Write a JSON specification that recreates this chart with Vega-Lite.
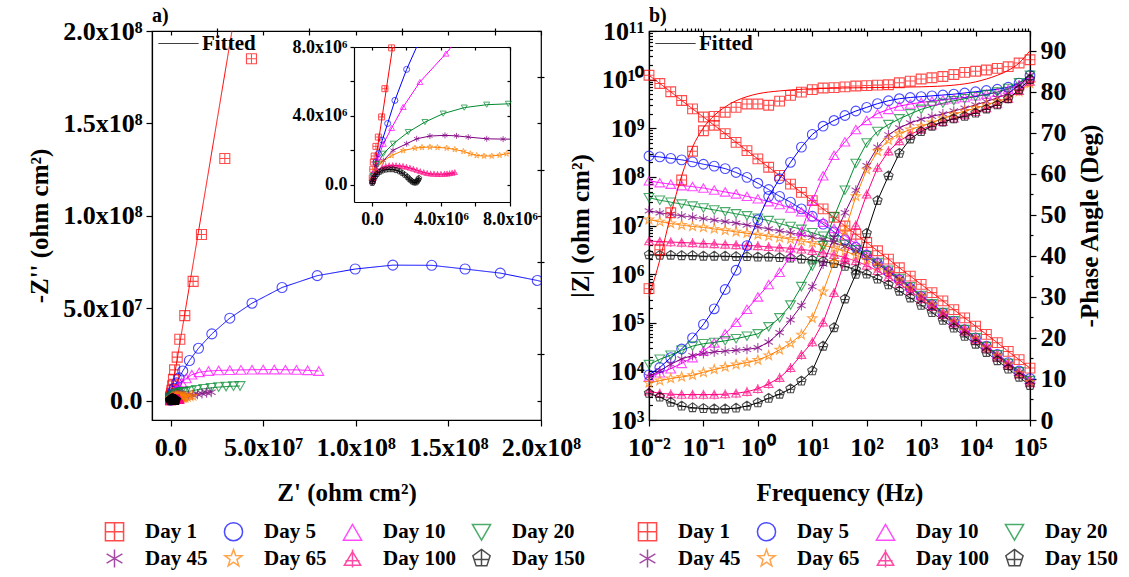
{
"$schema": "https://vega.github.io/schema/vega-lite/v6.json",
"background": "white",
"padding": {"left": 27, "top": 5, "right": 5, "bottom": 5},
"bounds": "flush",
"spacing": 108,
"datasets": {
"nyq": [
{"d":"Day 1","x":2e4,"y":4e5,"t":"p"},{"d":"Day 1","x":5e4,"y":9e5,"t":"p"},{"d":"Day 1","x":8e4,"y":1.32e6,"t":"p"},{"d":"Day 1","x":1.3e5,"y":1.67e6,"t":"p"},{"d":"Day 1","x":2.3e5,"y":2.23e6,"t":"p"},{"d":"Day 1","x":3.7e5,"y":2.77e6,"t":"p"},{"d":"Day 1","x":5.6e5,"y":3.94e6,"t":"p"},{"d":"Day 1","x":7.5e5,"y":5.58e6,"t":"p"},{"d":"Day 1","x":1.14e6,"y":7.95e6,"t":"p"},{"d":"Day 1","x":1.6e6,"y":1.15e7,"t":"p"},{"d":"Day 1","x":2.2e6,"y":1.66e7,"t":"p"},{"d":"Day 1","x":3.6e6,"y":2.35e7,"t":"p"},{"d":"Day 1","x":5.0e6,"y":3.32e7,"t":"p"},{"d":"Day 1","x":7.7e6,"y":4.6e7,"t":"p"},{"d":"Day 1","x":1.22e7,"y":6.45e7,"t":"p"},{"d":"Day 1","x":1.67e7,"y":8.99e7,"t":"p"},{"d":"Day 1","x":2.93e7,"y":1.31e8,"t":"p"},{"d":"Day 1","x":4.37e7,"y":1.85e8,"t":"p"},
{"d":"Day 1","x":0,"y":0,"t":"l"},{"d":"Day 1","x":1.2e6,"y":8e6,"t":"l"},{"d":"Day 1","x":3.4e7,"y":2.05e8,"t":"l"},
{"d":"Day 5","x":3e4,"y":2e5,"t":"b"},{"d":"Day 5","x":1.2e5,"y":6e5,"t":"b"},{"d":"Day 5","x":2.3e5,"y":1.3e6,"t":"b"},{"d":"Day 5","x":3.7e5,"y":1.81e6,"t":"b"},{"d":"Day 5","x":6e5,"y":2.59e6,"t":"b"},{"d":"Day 5","x":9.1e5,"y":3.56e6,"t":"b"},{"d":"Day 5","x":1.33e6,"y":4.9e6,"t":"b"},{"d":"Day 5","x":2.01e6,"y":6.7e6,"t":"b"},{"d":"Day 5","x":2.59e6,"y":8e6,"t":"l"},{"d":"Day 5","x":3.3e6,"y":9.6e6,"t":"b"},{"d":"Day 5","x":4.6e6,"y":1.23e7,"t":"b"},{"d":"Day 5","x":6.6e6,"y":1.6e7,"t":"b"},{"d":"Day 5","x":1.02e7,"y":2.17e7,"t":"b"},{"d":"Day 5","x":1.51e7,"y":2.83e7,"t":"b"},{"d":"Day 5","x":2.23e7,"y":3.61e7,"t":"b"},{"d":"Day 5","x":3.2e7,"y":4.46e7,"t":"b"},{"d":"Day 5","x":4.4e7,"y":5.27e7,"t":"b"},{"d":"Day 5","x":6.02e7,"y":6.12e7,"t":"b"},{"d":"Day 5","x":7.92e7,"y":6.76e7,"t":"b"},{"d":"Day 5","x":9.97e7,"y":7.12e7,"t":"b"},{"d":"Day 5","x":1.2e8,"y":7.33e7,"t":"b"},{"d":"Day 5","x":1.41e8,"y":7.32e7,"t":"b"},{"d":"Day 5","x":1.59e8,"y":7.12e7,"t":"b"},{"d":"Day 5","x":1.78e8,"y":6.9e7,"t":"b"},{"d":"Day 5","x":1.98e8,"y":6.5e7,"t":"b"},{"d":"Day 5","x":2.1e8,"y":6.2e7,"t":"l"},
{"d":"Day 10","x":6e4,"y":4e5,"t":"b"},{"d":"Day 10","x":1.5e5,"y":8e5,"t":"b"},{"d":"Day 10","x":3.7e5,"y":1.6e6,"t":"b"},{"d":"Day 10","x":6.6e5,"y":2.38e6,"t":"b"},{"d":"Day 10","x":1.14e6,"y":3.3e6,"t":"b"},{"d":"Day 10","x":1.81e6,"y":4.52e6,"t":"b"},{"d":"Day 10","x":2.78e6,"y":5.97e6,"t":"b"},{"d":"Day 10","x":4.29e6,"y":7.62e6,"t":"b"},{"d":"Day 10","x":4.59e6,"y":8e6,"t":"l"},{"d":"Day 10","x":6.0e6,"y":9.8e6,"t":"b"},{"d":"Day 10","x":8.5e6,"y":1.2e7,"t":"b"},{"d":"Day 10","x":1.15e7,"y":1.4e7,"t":"b"},{"d":"Day 10","x":1.55e7,"y":1.53e7,"t":"b"},{"d":"Day 10","x":2.05e7,"y":1.6e7,"t":"b"},{"d":"Day 10","x":2.6e7,"y":1.63e7,"t":"b"},{"d":"Day 10","x":3.2e7,"y":1.65e7,"t":"b"},{"d":"Day 10","x":3.8e7,"y":1.66e7,"t":"b"},{"d":"Day 10","x":4.4e7,"y":1.67e7,"t":"b"},{"d":"Day 10","x":5.0e7,"y":1.68e7,"t":"b"},{"d":"Day 10","x":5.6e7,"y":1.68e7,"t":"b"},{"d":"Day 10","x":6.2e7,"y":1.67e7,"t":"b"},{"d":"Day 10","x":6.8e7,"y":1.66e7,"t":"b"},{"d":"Day 10","x":7.4e7,"y":1.64e7,"t":"b"},{"d":"Day 10","x":8.0e7,"y":1.6e7,"t":"b"},
{"d":"Day 20","x":5e4,"y":5e5,"t":"b"},{"d":"Day 20","x":3e5,"y":1.2e6,"t":"b"},{"d":"Day 20","x":6.6e5,"y":1.8e6,"t":"b"},{"d":"Day 20","x":1.23e6,"y":2.38e6,"t":"b"},{"d":"Day 20","x":2.1e6,"y":3.06e6,"t":"b"},{"d":"Day 20","x":3.07e6,"y":3.64e6,"t":"b"},{"d":"Day 20","x":4.13e6,"y":4.13e6,"t":"b"},{"d":"Day 20","x":5.35e6,"y":4.48e6,"t":"b"},{"d":"Day 20","x":6.65e6,"y":4.65e6,"t":"b"},{"d":"Day 20","x":7.9e6,"y":4.7e6,"t":"b"},{"d":"Day 20","x":8e6,"y":4.72e6,"t":"l"},{"d":"Day 20","x":1.1e7,"y":5.2e6,"t":"b"},{"d":"Day 20","x":1.4e7,"y":5.8e6,"t":"b"},{"d":"Day 20","x":1.8e7,"y":6.4e6,"t":"b"},{"d":"Day 20","x":2.2e7,"y":6.9e6,"t":"b"},{"d":"Day 20","x":2.6e7,"y":7.3e6,"t":"b"},{"d":"Day 20","x":3.0e7,"y":7.6e6,"t":"b"},{"d":"Day 20","x":3.4e7,"y":7.8e6,"t":"b"},{"d":"Day 20","x":3.75e7,"y":7.9e6,"t":"b"},
{"d":"Day 45","x":5e4,"y":4e5,"t":"b"},{"d":"Day 45","x":2.5e5,"y":1.0e6,"t":"b"},{"d":"Day 45","x":6.6e5,"y":1.4e6,"t":"b"},{"d":"Day 45","x":1.22e6,"y":2.0e6,"t":"b"},{"d":"Day 45","x":2.01e6,"y":2.38e6,"t":"b"},{"d":"Day 45","x":2.59e6,"y":2.67e6,"t":"b"},{"d":"Day 45","x":3.36e6,"y":2.83e6,"t":"b"},{"d":"Day 45","x":4.23e6,"y":2.87e6,"t":"b"},{"d":"Day 45","x":4.9e6,"y":2.84e6,"t":"b"},{"d":"Day 45","x":5.58e6,"y":2.77e6,"t":"b"},{"d":"Day 45","x":6.65e6,"y":2.67e6,"t":"b"},{"d":"Day 45","x":7.6e6,"y":2.65e6,"t":"b"},{"d":"Day 45","x":8e6,"y":2.65e6,"t":"l"},{"d":"Day 45","x":9.5e6,"y":2.7e6,"t":"b"},{"d":"Day 45","x":1.2e7,"y":3.0e6,"t":"b"},{"d":"Day 45","x":1.45e7,"y":3.4e6,"t":"b"},{"d":"Day 45","x":1.7e7,"y":3.8e6,"t":"b"},{"d":"Day 45","x":1.95e7,"y":4.2e6,"t":"b"},{"d":"Day 45","x":2.2e7,"y":4.5e6,"t":"b"},
{"d":"Day 65","x":5e4,"y":3e5,"t":"b"},{"d":"Day 65","x":1.7e5,"y":8.5e5,"t":"b"},{"d":"Day 65","x":5.6e5,"y":1.32e6,"t":"b"},{"d":"Day 65","x":1.14e6,"y":1.7e6,"t":"b"},{"d":"Day 65","x":1.81e6,"y":1.99e6,"t":"b"},{"d":"Day 65","x":2.49e6,"y":2.13e6,"t":"b"},{"d":"Day 65","x":2.9e6,"y":2.17e6,"t":"b"},{"d":"Day 65","x":3.36e6,"y":2.19e6,"t":"b"},{"d":"Day 65","x":3.8e6,"y":2.17e6,"t":"b"},{"d":"Day 65","x":4.33e6,"y":2.13e6,"t":"b"},{"d":"Day 65","x":4.8e6,"y":2.05e6,"t":"b"},{"d":"Day 65","x":5.3e6,"y":1.94e6,"t":"b"},{"d":"Day 65","x":5.7e6,"y":1.8e6,"t":"b"},{"d":"Day 65","x":6.07e6,"y":1.7e6,"t":"b"},{"d":"Day 65","x":6.5e6,"y":1.67e6,"t":"b"},{"d":"Day 65","x":6.94e6,"y":1.67e6,"t":"b"},{"d":"Day 65","x":7.4e6,"y":1.72e6,"t":"b"},{"d":"Day 65","x":7.8e6,"y":1.8e6,"t":"b"},{"d":"Day 65","x":8e6,"y":1.83e6,"t":"l"},{"d":"Day 65","x":9e6,"y":2.0e6,"t":"b"},{"d":"Day 65","x":1.05e7,"y":2.3e6,"t":"b"},{"d":"Day 65","x":1.2e7,"y":2.6e6,"t":"b"},
{"d":"Day 100","x":3e4,"y":2e5,"t":"b"},{"d":"Day 100","x":1e5,"y":4e5,"t":"b"},{"d":"Day 100","x":3e5,"y":8e5,"t":"b"},{"d":"Day 100","x":6e5,"y":1.02e6,"t":"b"},{"d":"Day 100","x":8e5,"y":1.08e6,"t":"b"},{"d":"Day 100","x":1.0e6,"y":1.12e6,"t":"b"},{"d":"Day 100","x":1.2e6,"y":1.13e6,"t":"b"},{"d":"Day 100","x":1.4e6,"y":1.12e6,"t":"b"},{"d":"Day 100","x":1.6e6,"y":1.1e6,"t":"b"},{"d":"Day 100","x":1.8e6,"y":1.08e6,"t":"b"},{"d":"Day 100","x":2.0e6,"y":1.03e6,"t":"b"},{"d":"Day 100","x":2.2e6,"y":9.8e5,"t":"b"},{"d":"Day 100","x":2.4e6,"y":9.2e5,"t":"b"},{"d":"Day 100","x":2.6e6,"y":8.5e5,"t":"b"},{"d":"Day 100","x":2.8e6,"y":7.8e5,"t":"b"},{"d":"Day 100","x":3.0e6,"y":7.2e5,"t":"b"},{"d":"Day 100","x":3.2e6,"y":6.7e5,"t":"b"},{"d":"Day 100","x":3.4e6,"y":6.4e5,"t":"b"},{"d":"Day 100","x":3.6e6,"y":6.3e5,"t":"b"},{"d":"Day 100","x":3.8e6,"y":6.2e5,"t":"b"},{"d":"Day 100","x":4.0e6,"y":6.2e5,"t":"b"},{"d":"Day 100","x":4.2e6,"y":6.3e5,"t":"b"},{"d":"Day 100","x":4.35e6,"y":6.4e5,"t":"b"},{"d":"Day 100","x":4.5e6,"y":6.6e5,"t":"b"},{"d":"Day 100","x":4.65e6,"y":6.9e5,"t":"b"},{"d":"Day 100","x":4.8e6,"y":7.2e5,"t":"b"},
{"d":"Day 150","x":2e4,"y":1e5,"t":"b"},{"d":"Day 150","x":5e4,"y":2e5,"t":"b"},{"d":"Day 150","x":1e5,"y":3.5e5,"t":"b"},{"d":"Day 150","x":2e5,"y":5e5,"t":"b"},{"d":"Day 150","x":3e5,"y":6.3e5,"t":"b"},{"d":"Day 150","x":4.5e5,"y":7.5e5,"t":"b"},{"d":"Day 150","x":6e5,"y":8.3e5,"t":"b"},{"d":"Day 150","x":8e5,"y":8.8e5,"t":"b"},{"d":"Day 150","x":1.0e6,"y":9e5,"t":"b"},{"d":"Day 150","x":1.2e6,"y":9e5,"t":"b"},{"d":"Day 150","x":1.4e6,"y":8.5e5,"t":"b"},{"d":"Day 150","x":1.6e6,"y":7.8e5,"t":"b"},{"d":"Day 150","x":1.75e6,"y":6.9e5,"t":"b"},{"d":"Day 150","x":1.9e6,"y":5.8e5,"t":"b"},{"d":"Day 150","x":2.05e6,"y":4.6e5,"t":"b"},{"d":"Day 150","x":2.15e6,"y":3.5e5,"t":"b"},{"d":"Day 150","x":2.25e6,"y":2.6e5,"t":"b"},{"d":"Day 150","x":2.35e6,"y":1.8e5,"t":"b"},{"d":"Day 150","x":2.45e6,"y":1.3e5,"t":"b"},{"d":"Day 150","x":2.55e6,"y":1.3e5,"t":"b"},{"d":"Day 150","x":2.62e6,"y":2e5,"t":"b"},{"d":"Day 150","x":2.68e6,"y":3e5,"t":"b"},{"d":"Day 150","x":2.72e6,"y":3.8e5,"t":"b"}
],
"fit1": [
{"d":"Day 1","f":0.01,"p":30},{"d":"Day 1","f":0.0158,"p":39},{"d":"Day 1","f":0.0251,"p":50},{"d":"Day 1","f":0.0398,"p":59.5},{"d":"Day 1","f":0.0631,"p":66.5},{"d":"Day 1","f":0.1,"p":71.2},{"d":"Day 1","f":0.158,"p":74.2},{"d":"Day 1","f":0.251,"p":76.3},{"d":"Day 1","f":0.398,"p":77.8},{"d":"Day 1","f":0.631,"p":78.8},{"d":"Day 1","f":1,"p":79.5},{"d":"Day 1","f":2.51,"p":80.2},{"d":"Day 1","f":6.31,"p":80.6},{"d":"Day 1","f":15.8,"p":80.8},{"d":"Day 1","f":100,"p":81},{"d":"Day 1","f":1000,"p":81.2},{"d":"Day 1","f":3980,"p":81.6},{"d":"Day 1","f":10000,"p":82.4},{"d":"Day 1","f":15800,"p":83.1},{"d":"Day 1","f":25100,"p":84},{"d":"Day 1","f":39800,"p":85.2},{"d":"Day 1","f":63100,"p":87},{"d":"Day 1","f":100000,"p":90}
],
"bode": [
{"d":"Day 1","f":0.01,"z":1.23e10,"p":32},{"d":"Day 1","f":0.0158,"z":8.32e9,"p":41.5},{"d":"Day 1","f":0.0251,"z":5.62e9,"p":50.5},{"d":"Day 1","f":0.0398,"z":3.72e9,"p":58.5},{"d":"Day 1","f":0.0631,"z":2.51e9,"p":65.5},{"d":"Day 1","f":0.1,"z":1.70e9,"p":70.5},{"d":"Day 1","f":0.158,"z":1.15e9,"p":74},{"d":"Day 1","f":0.251,"z":7.76e8,"p":75},{"d":"Day 1","f":0.398,"z":5.13e8,"p":76.2},{"d":"Day 1","f":0.631,"z":3.47e8,"p":77},{"d":"Day 1","f":1,"z":2.34e8,"p":77},{"d":"Day 1","f":1.58,"z":1.58e8,"p":76.7},{"d":"Day 1","f":2.51,"z":1.07e8,"p":77.7},{"d":"Day 1","f":3.98,"z":7.08e7,"p":79.1},{"d":"Day 1","f":6.31,"z":4.79e7,"p":79.9},{"d":"Day 1","f":10,"z":3.24e7,"p":80.5},{"d":"Day 1","f":15.8,"z":2.19e7,"p":80.9},{"d":"Day 1","f":25.1,"z":1.48e7,"p":81},{"d":"Day 1","f":39.8,"z":9.77e6,"p":81.2},{"d":"Day 1","f":63.1,"z":6.61e6,"p":81.4},{"d":"Day 1","f":100,"z":4.47e6,"p":81.5},{"d":"Day 1","f":158,"z":3.02e6,"p":81.6},{"d":"Day 1","f":251,"z":2.04e6,"p":81.7},{"d":"Day 1","f":398,"z":1.35e6,"p":82.2},{"d":"Day 1","f":631,"z":9.12e5,"p":82.6},{"d":"Day 1","f":1000,"z":6.17e5,"p":83.1},{"d":"Day 1","f":1580,"z":4.17e5,"p":83.4},{"d":"Day 1","f":2510,"z":2.82e5,"p":83.7},{"d":"Day 1","f":3980,"z":1.86e5,"p":84.2},{"d":"Day 1","f":6310,"z":1.26e5,"p":84.7},{"d":"Day 1","f":10000,"z":8.51e4,"p":85},{"d":"Day 1","f":15800,"z":5.75e4,"p":85.3},{"d":"Day 1","f":25100,"z":3.89e4,"p":85.7},{"d":"Day 1","f":39800,"z":2.57e4,"p":86.1},{"d":"Day 1","f":63100,"z":1.74e4,"p":87},{"d":"Day 1","f":100000,"z":1.17e4,"p":87.8},
{"d":"Day 5","f":0.01,"z":2.69e8,"p":11},{"d":"Day 5","f":0.0158,"z":2.57e8,"p":12.8},{"d":"Day 5","f":0.0251,"z":2.40e8,"p":15.2},{"d":"Day 5","f":0.0398,"z":2.24e8,"p":17.3},{"d":"Day 5","f":0.0631,"z":2.04e8,"p":20},{"d":"Day 5","f":0.1,"z":1.82e8,"p":23.3},{"d":"Day 5","f":0.158,"z":1.66e8,"p":27.1},{"d":"Day 5","f":0.251,"z":1.48e8,"p":31.8},{"d":"Day 5","f":0.398,"z":1.23e8,"p":36.5},{"d":"Day 5","f":0.631,"z":9.77e7,"p":42.5},{"d":"Day 5","f":1,"z":7.41e7,"p":48.8},{"d":"Day 5","f":1.58,"z":5.50e7,"p":54.5},{"d":"Day 5","f":2.51,"z":3.98e7,"p":58.8},{"d":"Day 5","f":3.98,"z":3.02e7,"p":62.8},{"d":"Day 5","f":6.31,"z":2.19e7,"p":66.5},{"d":"Day 5","f":10,"z":1.55e7,"p":69.6},{"d":"Day 5","f":15.8,"z":1.07e7,"p":71.6},{"d":"Day 5","f":25.1,"z":7.41e6,"p":73},{"d":"Day 5","f":39.8,"z":5.13e6,"p":74.2},{"d":"Day 5","f":63.1,"z":3.55e6,"p":75.3},{"d":"Day 5","f":100,"z":2.45e6,"p":76.2},{"d":"Day 5","f":158,"z":1.66e6,"p":77.1},{"d":"Day 5","f":251,"z":1.12e6,"p":77.8},{"d":"Day 5","f":398,"z":7.59e5,"p":78.3},{"d":"Day 5","f":631,"z":5.13e5,"p":78.6},{"d":"Day 5","f":1000,"z":3.47e5,"p":78.8},{"d":"Day 5","f":1580,"z":2.34e5,"p":79},{"d":"Day 5","f":2510,"z":1.58e5,"p":79.2},{"d":"Day 5","f":3980,"z":1.07e5,"p":79.4},{"d":"Day 5","f":6310,"z":7.24e4,"p":79.7},{"d":"Day 5","f":10000,"z":4.90e4,"p":80},{"d":"Day 5","f":15800,"z":3.31e4,"p":80.3},{"d":"Day 5","f":25100,"z":2.24e4,"p":80.6},{"d":"Day 5","f":39800,"z":1.51e4,"p":81.1},{"d":"Day 5","f":63100,"z":1.02e4,"p":82.1},{"d":"Day 5","f":100000,"z":7.08e3,"p":84},
{"d":"Day 10","f":0.01,"z":8.32e7,"p":10.5},{"d":"Day 10","f":0.0158,"z":7.59e7,"p":11.5},{"d":"Day 10","f":0.0251,"z":7.08e7,"p":12.5},{"d":"Day 10","f":0.0398,"z":6.61e7,"p":13.8},{"d":"Day 10","f":0.0631,"z":6.31e7,"p":15.2},{"d":"Day 10","f":0.1,"z":5.89e7,"p":16.8},{"d":"Day 10","f":0.158,"z":5.37e7,"p":18.8},{"d":"Day 10","f":0.251,"z":4.90e7,"p":21},{"d":"Day 10","f":0.398,"z":4.47e7,"p":23.8},{"d":"Day 10","f":0.631,"z":3.98e7,"p":27},{"d":"Day 10","f":1,"z":3.55e7,"p":30},{"d":"Day 10","f":1.58,"z":3.09e7,"p":33},{"d":"Day 10","f":2.51,"z":2.69e7,"p":36},{"d":"Day 10","f":3.98,"z":2.29e7,"p":40},{"d":"Day 10","f":6.31,"z":1.91e7,"p":46},{"d":"Day 10","f":10,"z":1.51e7,"p":53.5},{"d":"Day 10","f":15.8,"z":1.17e7,"p":59.5},{"d":"Day 10","f":25.1,"z":8.71e6,"p":64.5},{"d":"Day 10","f":39.8,"z":6.17e6,"p":67.8},{"d":"Day 10","f":63.1,"z":4.17e6,"p":70.8},{"d":"Day 10","f":100,"z":2.75e6,"p":73},{"d":"Day 10","f":158,"z":1.86e6,"p":74.7},{"d":"Day 10","f":251,"z":1.26e6,"p":75.7},{"d":"Day 10","f":398,"z":8.32e5,"p":76.5},{"d":"Day 10","f":631,"z":5.62e5,"p":77},{"d":"Day 10","f":1000,"z":3.72e5,"p":77.4},{"d":"Day 10","f":1580,"z":2.51e5,"p":77.7},{"d":"Day 10","f":2510,"z":1.66e5,"p":78},{"d":"Day 10","f":3980,"z":1.12e5,"p":78.3},{"d":"Day 10","f":6310,"z":7.59e4,"p":78.6},{"d":"Day 10","f":10000,"z":5.01e4,"p":79},{"d":"Day 10","f":15800,"z":3.39e4,"p":79.4},{"d":"Day 10","f":25100,"z":2.29e4,"p":79.9},{"d":"Day 10","f":39800,"z":1.51e4,"p":80.6},{"d":"Day 10","f":63100,"z":1.02e4,"p":81.7},{"d":"Day 10","f":100000,"z":6.92e3,"p":83.5},
{"d":"Day 20","f":0.01,"z":3.72e7,"p":13.5},{"d":"Day 20","f":0.0158,"z":3.31e7,"p":14.8},{"d":"Day 20","f":0.0251,"z":3.02e7,"p":15.8},{"d":"Day 20","f":0.0398,"z":2.75e7,"p":17},{"d":"Day 20","f":0.0631,"z":2.51e7,"p":18},{"d":"Day 20","f":0.1,"z":2.29e7,"p":18.6},{"d":"Day 20","f":0.158,"z":2.09e7,"p":18.9},{"d":"Day 20","f":0.251,"z":1.91e7,"p":19.3},{"d":"Day 20","f":0.398,"z":1.74e7,"p":19.8},{"d":"Day 20","f":0.631,"z":1.58e7,"p":20.4},{"d":"Day 20","f":1,"z":1.41e7,"p":21},{"d":"Day 20","f":1.58,"z":1.26e7,"p":22.7},{"d":"Day 20","f":2.51,"z":1.10e7,"p":24.9},{"d":"Day 20","f":3.98,"z":9.55e6,"p":28},{"d":"Day 20","f":6.31,"z":8.32e6,"p":32.5},{"d":"Day 20","f":10,"z":7.08e6,"p":37.5},{"d":"Day 20","f":15.8,"z":6.03e6,"p":42.5},{"d":"Day 20","f":25.1,"z":5.01e6,"p":49.5},{"d":"Day 20","f":39.8,"z":4.07e6,"p":56},{"d":"Day 20","f":63.1,"z":3.16e6,"p":62.5},{"d":"Day 20","f":100,"z":2.40e6,"p":67.5},{"d":"Day 20","f":158,"z":1.74e6,"p":70.3},{"d":"Day 20","f":251,"z":1.20e6,"p":72},{"d":"Day 20","f":398,"z":8.13e5,"p":73.4},{"d":"Day 20","f":631,"z":5.50e5,"p":74.6},{"d":"Day 20","f":1000,"z":3.63e5,"p":75.7},{"d":"Day 20","f":1580,"z":2.45e5,"p":76.5},{"d":"Day 20","f":2510,"z":1.62e5,"p":77.2},{"d":"Day 20","f":3980,"z":1.10e5,"p":77.8},{"d":"Day 20","f":6310,"z":7.24e4,"p":78.3},{"d":"Day 20","f":10000,"z":4.90e4,"p":78.8},{"d":"Day 20","f":15800,"z":3.24e4,"p":79.3},{"d":"Day 20","f":25100,"z":2.19e4,"p":79.9},{"d":"Day 20","f":39800,"z":1.45e4,"p":80.8},{"d":"Day 20","f":63100,"z":9.77e3,"p":82.2},{"d":"Day 20","f":100000,"z":6.46e3,"p":84},
{"d":"Day 45","f":0.01,"z":2.00e7,"p":10.6},{"d":"Day 45","f":0.0158,"z":1.82e7,"p":12},{"d":"Day 45","f":0.0251,"z":1.70e7,"p":13.6},{"d":"Day 45","f":0.0398,"z":1.58e7,"p":14.9},{"d":"Day 45","f":0.0631,"z":1.48e7,"p":15.7},{"d":"Day 45","f":0.1,"z":1.38e7,"p":16.2},{"d":"Day 45","f":0.158,"z":1.29e7,"p":16.6},{"d":"Day 45","f":0.251,"z":1.20e7,"p":16.8},{"d":"Day 45","f":0.398,"z":1.12e7,"p":17},{"d":"Day 45","f":0.631,"z":1.02e7,"p":17.2},{"d":"Day 45","f":1,"z":9.33e6,"p":17.6},{"d":"Day 45","f":1.58,"z":8.51e6,"p":19},{"d":"Day 45","f":2.51,"z":7.76e6,"p":21.3},{"d":"Day 45","f":3.98,"z":7.08e6,"p":24.4},{"d":"Day 45","f":6.31,"z":6.46e6,"p":27.9},{"d":"Day 45","f":10,"z":5.75e6,"p":32.5},{"d":"Day 45","f":15.8,"z":5.13e6,"p":38},{"d":"Day 45","f":25.1,"z":4.47e6,"p":44.5},{"d":"Day 45","f":39.8,"z":3.72e6,"p":50.5},{"d":"Day 45","f":63.1,"z":2.95e6,"p":56},{"d":"Day 45","f":100,"z":2.24e6,"p":62},{"d":"Day 45","f":158,"z":1.62e6,"p":66.5},{"d":"Day 45","f":251,"z":1.15e6,"p":69.5},{"d":"Day 45","f":398,"z":7.94e5,"p":71.2},{"d":"Day 45","f":631,"z":5.37e5,"p":72.4},{"d":"Day 45","f":1000,"z":3.55e5,"p":73.3},{"d":"Day 45","f":1580,"z":2.40e5,"p":74},{"d":"Day 45","f":2510,"z":1.58e5,"p":74.6},{"d":"Day 45","f":3980,"z":1.07e5,"p":75.3},{"d":"Day 45","f":6310,"z":7.08e4,"p":76},{"d":"Day 45","f":10000,"z":4.79e4,"p":76.8},{"d":"Day 45","f":15800,"z":3.16e4,"p":77.6},{"d":"Day 45","f":25100,"z":2.14e4,"p":78.5},{"d":"Day 45","f":39800,"z":1.41e4,"p":79.6},{"d":"Day 45","f":63100,"z":9.33e3,"p":81.5},{"d":"Day 45","f":100000,"z":6.17e3,"p":84},
{"d":"Day 65","f":0.01,"z":1.32e7,"p":9},{"d":"Day 65","f":0.0158,"z":1.20e7,"p":9.6},{"d":"Day 65","f":0.0251,"z":1.10e7,"p":10.1},{"d":"Day 65","f":0.0398,"z":1.02e7,"p":10.5},{"d":"Day 65","f":0.0631,"z":9.55e6,"p":10.9},{"d":"Day 65","f":0.1,"z":9.12e6,"p":11.6},{"d":"Day 65","f":0.158,"z":8.51e6,"p":12.3},{"d":"Day 65","f":0.251,"z":7.94e6,"p":12.9},{"d":"Day 65","f":0.398,"z":7.41e6,"p":13.5},{"d":"Day 65","f":0.631,"z":6.92e6,"p":14},{"d":"Day 65","f":1,"z":6.46e6,"p":14.6},{"d":"Day 65","f":1.58,"z":6.03e6,"p":15.7},{"d":"Day 65","f":2.51,"z":5.62e6,"p":17.1},{"d":"Day 65","f":3.98,"z":5.25e6,"p":18.7},{"d":"Day 65","f":6.31,"z":4.79e6,"p":20.8},{"d":"Day 65","f":10,"z":4.37e6,"p":24.8},{"d":"Day 65","f":15.8,"z":3.89e6,"p":31.3},{"d":"Day 65","f":25.1,"z":3.47e6,"p":38.5},{"d":"Day 65","f":39.8,"z":2.95e6,"p":46},{"d":"Day 65","f":63.1,"z":2.45e6,"p":54.5},{"d":"Day 65","f":100,"z":1.95e6,"p":61},{"d":"Day 65","f":158,"z":1.48e6,"p":65.5},{"d":"Day 65","f":251,"z":1.07e6,"p":68.2},{"d":"Day 65","f":398,"z":7.41e5,"p":69.8},{"d":"Day 65","f":631,"z":5.13e5,"p":70.8},{"d":"Day 65","f":1000,"z":3.47e5,"p":71.6},{"d":"Day 65","f":1580,"z":2.34e5,"p":72.5},{"d":"Day 65","f":2510,"z":1.55e5,"p":73.5},{"d":"Day 65","f":3980,"z":1.05e5,"p":74.5},{"d":"Day 65","f":6310,"z":6.92e4,"p":75.3},{"d":"Day 65","f":10000,"z":4.68e4,"p":76},{"d":"Day 65","f":15800,"z":3.09e4,"p":76.8},{"d":"Day 65","f":25100,"z":2.09e4,"p":77.6},{"d":"Day 65","f":39800,"z":1.38e4,"p":78.5},{"d":"Day 65","f":63100,"z":9.12e3,"p":80},{"d":"Day 65","f":100000,"z":6.03e3,"p":82},
{"d":"Day 100","f":0.01,"z":4.79e6,"p":7},{"d":"Day 100","f":0.0158,"z":4.68e6,"p":6.5},{"d":"Day 100","f":0.0251,"z":4.57e6,"p":6.3},{"d":"Day 100","f":0.0398,"z":4.47e6,"p":6.2},{"d":"Day 100","f":0.0631,"z":4.37e6,"p":6.2},{"d":"Day 100","f":0.1,"z":4.27e6,"p":6.2},{"d":"Day 100","f":0.158,"z":4.17e6,"p":6.2},{"d":"Day 100","f":0.251,"z":4.07e6,"p":6.3},{"d":"Day 100","f":0.398,"z":3.98e6,"p":6.5},{"d":"Day 100","f":0.631,"z":3.89e6,"p":6.9},{"d":"Day 100","f":1,"z":3.80e6,"p":7.6},{"d":"Day 100","f":1.58,"z":3.63e6,"p":8.8},{"d":"Day 100","f":2.51,"z":3.55e6,"p":10.3},{"d":"Day 100","f":3.98,"z":3.39e6,"p":12.7},{"d":"Day 100","f":6.31,"z":3.24e6,"p":15.9},{"d":"Day 100","f":10,"z":3.02e6,"p":19},{"d":"Day 100","f":15.8,"z":2.75e6,"p":23.8},{"d":"Day 100","f":25.1,"z":2.51e6,"p":31},{"d":"Day 100","f":39.8,"z":2.19e6,"p":39},{"d":"Day 100","f":63.1,"z":1.86e6,"p":47.5},{"d":"Day 100","f":100,"z":1.51e6,"p":55},{"d":"Day 100","f":158,"z":1.17e6,"p":61.5},{"d":"Day 100","f":251,"z":8.71e5,"p":65.5},{"d":"Day 100","f":398,"z":6.31e5,"p":68},{"d":"Day 100","f":631,"z":4.47e5,"p":69.6},{"d":"Day 100","f":1000,"z":3.09e5,"p":70.8},{"d":"Day 100","f":1580,"z":2.14e5,"p":71.8},{"d":"Day 100","f":2510,"z":1.45e5,"p":72.7},{"d":"Day 100","f":3980,"z":9.77e4,"p":73.5},{"d":"Day 100","f":6310,"z":6.61e4,"p":74.3},{"d":"Day 100","f":10000,"z":4.37e4,"p":75.1},{"d":"Day 100","f":15800,"z":2.95e4,"p":76},{"d":"Day 100","f":25100,"z":1.95e4,"p":77},{"d":"Day 100","f":39800,"z":1.32e4,"p":78.3},{"d":"Day 100","f":63100,"z":8.71e3,"p":80.2},{"d":"Day 100","f":100000,"z":5.75e3,"p":82.5},
{"d":"Day 150","f":0.01,"z":2.51e6,"p":6.5},{"d":"Day 150","f":0.0158,"z":2.45e6,"p":5.6},{"d":"Day 150","f":0.0251,"z":2.45e6,"p":4.3},{"d":"Day 150","f":0.0398,"z":2.40e6,"p":3.4},{"d":"Day 150","f":0.0631,"z":2.40e6,"p":3},{"d":"Day 150","f":0.1,"z":2.34e6,"p":2.8},{"d":"Day 150","f":0.158,"z":2.34e6,"p":2.7},{"d":"Day 150","f":0.251,"z":2.34e6,"p":2.7},{"d":"Day 150","f":0.398,"z":2.29e6,"p":2.9},{"d":"Day 150","f":0.631,"z":2.29e6,"p":3.4},{"d":"Day 150","f":1,"z":2.24e6,"p":4.2},{"d":"Day 150","f":1.58,"z":2.24e6,"p":5.3},{"d":"Day 150","f":2.51,"z":2.19e6,"p":6.3},{"d":"Day 150","f":3.98,"z":2.14e6,"p":7.6},{"d":"Day 150","f":6.31,"z":2.04e6,"p":9.5},{"d":"Day 150","f":10,"z":1.95e6,"p":12},{"d":"Day 150","f":15.8,"z":1.82e6,"p":18},{"d":"Day 150","f":25.1,"z":1.66e6,"p":22.5},{"d":"Day 150","f":39.8,"z":1.45e6,"p":29.5},{"d":"Day 150","f":63.1,"z":1.23e6,"p":35.5},{"d":"Day 150","f":100,"z":1.00e6,"p":45.5},{"d":"Day 150","f":158,"z":7.94e5,"p":53.5},{"d":"Day 150","f":251,"z":6.03e5,"p":59.5},{"d":"Day 150","f":398,"z":4.47e5,"p":65},{"d":"Day 150","f":631,"z":3.24e5,"p":68.5},{"d":"Day 150","f":1000,"z":2.29e5,"p":70.3},{"d":"Day 150","f":1580,"z":1.62e5,"p":71.6},{"d":"Day 150","f":2510,"z":1.12e5,"p":72.6},{"d":"Day 150","f":3980,"z":7.76e4,"p":73.4},{"d":"Day 150","f":6310,"z":5.25e4,"p":74},{"d":"Day 150","f":10000,"z":3.63e4,"p":74.8},{"d":"Day 150","f":15800,"z":2.45e4,"p":75.8},{"d":"Day 150","f":25100,"z":1.66e4,"p":76.8},{"d":"Day 150","f":39800,"z":1.12e4,"p":78.3},{"d":"Day 150","f":63100,"z":7.59e3,"p":80.5},{"d":"Day 150","f":100000,"z":5.13e3,"p":83}
]
},
"hconcat": [
{
"width": 389, "height": 389,
"title": {"text": "a)"},
"layer": [
{
"data": {"name": "nyq"},
"transform": [{"filter": "datum.t != 'p'"}],
"mark": {"type": "line", "clip": true, "strokeWidth": 1},
"encoding": {
"x": {"field": "x", "type": "quantitative", "scale": {"domain": [-1e7, 2e8], "nice": false, "zero": false},
 "axis": {"values": [0, 5e7, 1e8, 1.5e8, 2e8], "labelExpr": "datum.value == 0 ? '0.0' : datum.value == 5e7 ? '5.0x10⁷' : datum.value == 1e8 ? '1.0x10⁸' : datum.value == 1.5e8 ? '1.5x10⁸' : '2.0x10⁸'", "title": "Z' (ohm cm²)", "labelPadding": 8, "titlePadding": 20}},
"y": {"field": "y", "type": "quantitative", "scale": {"domain": [-1.05e7, 2e8], "nice": false, "zero": false},
 "axis": {"values": [0, 5e7, 1e8, 1.5e8, 2e8], "labelExpr": "datum.value == 0 ? '0.0' : datum.value == 5e7 ? '5.0x10⁷' : datum.value == 1e8 ? '1.0x10⁸' : datum.value == 1.5e8 ? '1.5x10⁸' : '2.0x10⁸'", "title": "-Z'' (ohm cm²)", "titlePadding": 10}},
"color": {"field": "d", "type": "nominal",
 "scale": {"domain": ["Day 1","Day 5","Day 10","Day 20","Day 45","Day 65","Day 100","Day 150"], "range": ["#ff0000","#0000ff","#ff00ff","#008a2e","#800080","#ff8000","#ff0080","#000000"]},
 "legend": {"orient": "none", "legendX": -48, "legendY": 490, "columns": 4, "direction": "horizontal", "title": null}},
"strokeDash": {"datum": "Fitted", "type": "nominal", "scale": {"range": [[1, 0]]},
 "legend": {"orient": "none", "legendX": 6, "legendY": -8, "title": null, "symbolType": "stroke", "symbolSize": 1600, "symbolStrokeColor": "black", "symbolStrokeWidth": 1, "labelOffset": 3, "columns": 1}}
}
},
{
"data": {"name": "nyq"},
"transform": [{"filter": "datum.t != 'l'"}],
"mark": {"type": "point", "filled": false, "clip": true, "size": 100, "strokeWidth": 1.1},
"encoding": {
"x": {"field": "x", "type": "quantitative", "scale": {"domain": [-1e7, 2e8], "nice": false, "zero": false},
 "axis": {"values": [2.5e7, 7.5e7, 1.25e8, 1.75e8], "labels": false, "title": null, "tickSize": 3, "domain": false}},
"y": {"field": "y", "type": "quantitative", "scale": {"domain": [-1.05e7, 2e8], "nice": false, "zero": false},
 "axis": {"values": [2.5e7, 7.5e7, 1.25e8, 1.75e8], "labels": false, "title": null, "tickSize": 3, "domain": false}},
"color": {"field": "d", "type": "nominal", "scale": {"domain": ["Day 1","Day 5","Day 10","Day 20","Day 45","Day 65","Day 100","Day 150"], "range": ["#ff0000","#0000ff","#ff00ff","#008a2e","#800080","#ff8000","#ff0080","#000000"]}},
"shape": {"field": "d", "type": "nominal",
 "scale": {"domain": ["Day 1","Day 5","Day 10","Day 20","Day 45","Day 65","Day 100","Day 150"],
  "range": ["M-1,-1H1V1H-1Z M0,-1V1 M-1,0H1", "circle", "triangle-up", "triangle-down", "M0,-1V1 M-0.87,-0.5L0.87,0.5 M-0.87,0.5L0.87,-0.5", "M0,-1L0.235,-0.324L0.951,-0.309L0.38,0.124L0.588,0.809L0,0.4L-0.588,0.809L-0.38,0.124L-0.951,-0.309L-0.235,-0.324Z", "M0,-0.75L0.9,0.75H-0.9Z M0,-1V1 M-0.78,0.25H0.78", "M0,-1L0.95,-0.31L0.59,0.81H-0.59L-0.95,-0.31Z M0,-1V0.81 M-0.82,0.1H0.82"]},
 "legend": {"orient": "none", "legendX": -48, "legendY": 490, "columns": 4, "direction": "horizontal", "title": null}}
}
},
{
"data": {"name": "nyq"},
"mark": {"type": "point", "opacity": 0},
"encoding": {
"x": {"field": "x", "type": "quantitative", "scale": {"domain": [-1e7, 2e8], "nice": false, "zero": false},
 "axis": {"orient": "top", "values": [0, 2.5e7, 5e7, 7.5e7, 1e8, 1.25e8, 1.5e8, 1.75e8, 2e8], "labels": false, "title": null, "tickSize": -4, "domain": false}},
"y": {"field": "y", "type": "quantitative", "scale": {"domain": [-1.05e7, 2e8], "nice": false, "zero": false},
 "axis": {"orient": "right", "values": [0, 2.5e7, 5e7, 7.5e7, 1e8, 1.25e8, 1.5e8, 1.75e8, 2e8], "labels": false, "title": null, "tickSize": -4, "domain": false}}
}
},
{
"data": {"name": "nyq"},
"transform": [{"filter": "datum.t != 'p' && datum.x <= 8e6 && datum.y <= 8e6"}],
"mark": {"type": "line", "strokeWidth": 1},
"encoding": {
"x": {"field": "x", "type": "quantitative", "scale": {"domain": [-1.04e6, 8e6], "range": [202, 358], "nice": false, "zero": false},
 "axis": {"orient": "bottom", "offset": -218, "values": [0, 2e6, 4e6, 6e6, 8e6], "labelExpr": "datum.value == 0 ? '0.0' : datum.value == 4e6 ? '4.0x10⁶' : datum.value == 8e6 ? '8.0x10⁶' : ''", "labelFontSize": 18, "tickSize": 4, "title": null, "labelPadding": 4}},
"y": {"field": "y", "type": "quantitative", "scale": {"domain": [-1e6, 8e6], "range": [171, 16], "nice": false, "zero": false},
 "axis": {"orient": "left", "offset": -202, "values": [0, 2e6, 4e6, 6e6, 8e6], "labelExpr": "datum.value == 0 ? '0.0' : datum.value == 4e6 ? '4.0x10⁶' : datum.value == 8e6 ? '8.0x10⁶' : ''", "labelFontSize": 18, "tickSize": 4, "title": null, "labelPadding": 3}},
"color": {"field": "d", "type": "nominal", "scale": {"domain": ["Day 1","Day 5","Day 10","Day 20","Day 45","Day 65","Day 100","Day 150"], "range": ["#ff0000","#0000ff","#ff00ff","#008a2e","#800080","#ff8000","#ff0080","#000000"]}}
}
},
{
"data": {"name": "nyq"},
"transform": [{"filter": "datum.t != 'l' && datum.x <= 8e6 && datum.y <= 8e6"}],
"mark": {"type": "point", "filled": false, "size": 36, "strokeWidth": 1},
"encoding": {
"x": {"field": "x", "type": "quantitative", "scale": {"domain": [-1.04e6, 8e6], "range": [202, 358], "nice": false, "zero": false},
 "axis": {"orient": "top", "offset": -16, "labels": false, "title": null, "values": [0, 2e6, 4e6, 6e6, 8e6], "tickSize": -3}},
"y": {"field": "y", "type": "quantitative", "scale": {"domain": [-1e6, 8e6], "range": [171, 16], "nice": false, "zero": false},
 "axis": {"orient": "right", "offset": -31, "labels": false, "title": null, "values": [0, 2e6, 4e6, 6e6, 8e6], "tickSize": -3}},
"color": {"field": "d", "type": "nominal", "scale": {"domain": ["Day 1","Day 5","Day 10","Day 20","Day 45","Day 65","Day 100","Day 150"], "range": ["#ff0000","#0000ff","#ff00ff","#008a2e","#800080","#ff8000","#ff0080","#000000"]}},
"shape": {"field": "d", "type": "nominal",
 "scale": {"domain": ["Day 1","Day 5","Day 10","Day 20","Day 45","Day 65","Day 100","Day 150"],
  "range": ["M-1,-1H1V1H-1Z M0,-1V1 M-1,0H1", "circle", "triangle-up", "triangle-down", "M0,-1V1 M-0.87,-0.5L0.87,0.5 M-0.87,0.5L0.87,-0.5", "M0,-1L0.235,-0.324L0.951,-0.309L0.38,0.124L0.588,0.809L0,0.4L-0.588,0.809L-0.38,0.124L-0.951,-0.309L-0.235,-0.324Z", "M0,-0.75L0.9,0.75H-0.9Z M0,-1V1 M-0.78,0.25H0.78", "M0,-1L0.95,-0.31L0.59,0.81H-0.59L-0.95,-0.31Z M0,-1V0.81 M-0.82,0.1H0.82"]}}
}
}
],
"resolve": {"scale": {"x": "independent", "y": "independent"}}
},
{
"width": 381, "height": 389,
"title": {"text": "b)"},
"layer": [
{
"data": {"name": "bode"},
"mark": {"type": "line", "strokeWidth": 1},
"encoding": {
"x": {"field": "f", "type": "quantitative", "scale": {"type": "log", "domain": [0.01, 100000], "nice": false},
 "axis": {"values": [0.01, 0.1, 1, 10, 100, 1000, 10000, 100000], "labelExpr": "'10' + ['⁻²','⁻¹','⁰','¹','²','³','⁴','⁵'][round(log(datum.value)/LN10)+2]", "title": "Frequency (Hz)", "labelPadding": 8, "titlePadding": 20}},
"y": {"field": "z", "type": "quantitative", "scale": {"type": "log", "domain": [1000, 1e11], "nice": false},
 "axis": {"orient": "left", "values": [1e3, 1e4, 1e5, 1e6, 1e7, 1e8, 1e9, 1e10, 1e11], "labelExpr": "'10' + ['³','⁴','⁵','⁶','⁷','⁸','⁹','¹⁰','¹¹'][round(log(datum.value)/LN10)-3]", "title": "|Z| (ohm cm²)", "titlePadding": 8, "tickSize": -7, "labelPadding": 12}},
"color": {"field": "d", "type": "nominal",
 "scale": {"domain": ["Day 1","Day 5","Day 10","Day 20","Day 45","Day 65","Day 100","Day 150"], "range": ["#ff0000","#0000ff","#ff00ff","#008a2e","#800080","#ff8000","#ff0080","#000000"]},
 "legend": {"orient": "none", "legendX": -12, "legendY": 490, "columns": 4, "direction": "horizontal", "title": null}},
"strokeDash": {"datum": "Fitted", "type": "nominal", "scale": {"range": [[1, 0]]},
 "legend": {"orient": "none", "legendX": 6, "legendY": -8, "title": null, "symbolType": "stroke", "symbolSize": 1600, "symbolStrokeColor": "black", "symbolStrokeWidth": 1, "labelOffset": 3, "columns": 1}}
}
},
{
"data": {"name": "bode"},
"mark": {"type": "point", "filled": false, "size": 95, "strokeWidth": 1.1},
"encoding": {
"x": {"field": "f", "type": "quantitative", "scale": {"type": "log", "domain": [0.01, 100000], "nice": false},
 "axis": {"values": [0.02,0.03,0.04,0.05,0.06,0.07,0.08,0.09,0.2,0.3,0.4,0.5,0.6,0.7,0.8,0.9,2,3,4,5,6,7,8,9,20,30,40,50,60,70,80,90,200,300,400,500,600,700,800,900,2000,3000,4000,5000,6000,7000,8000,9000,20000,30000,40000,50000,60000,70000,80000,90000], "labels": false, "title": null, "tickSize": 3, "domain": false}},
"y": {"field": "z", "type": "quantitative", "scale": {"type": "log", "domain": [1000, 1e11], "nice": false},
 "axis": {"orient": "left", "values": [2e3,3e3,4e3,5e3,6e3,7e3,8e3,9e3,2e4,3e4,4e4,5e4,6e4,7e4,8e4,9e4,2e5,3e5,4e5,5e5,6e5,7e5,8e5,9e5,2e6,3e6,4e6,5e6,6e6,7e6,8e6,9e6,2e7,3e7,4e7,5e7,6e7,7e7,8e7,9e7,2e8,3e8,4e8,5e8,6e8,7e8,8e8,9e8,2e9,3e9,4e9,5e9,6e9,7e9,8e9,9e9,2e10,3e10,4e10,5e10,6e10,7e10,8e10,9e10], "labels": false, "title": null, "tickSize": -3.5, "domain": false}},
"color": {"field": "d", "type": "nominal", "scale": {"domain": ["Day 1","Day 5","Day 10","Day 20","Day 45","Day 65","Day 100","Day 150"], "range": ["#ff0000","#0000ff","#ff00ff","#008a2e","#800080","#ff8000","#ff0080","#000000"]}},
"shape": {"field": "d", "type": "nominal",
 "scale": {"domain": ["Day 1","Day 5","Day 10","Day 20","Day 45","Day 65","Day 100","Day 150"],
  "range": ["M-1,-1H1V1H-1Z M0,-1V1 M-1,0H1", "circle", "triangle-up", "triangle-down", "M0,-1V1 M-0.87,-0.5L0.87,0.5 M-0.87,0.5L0.87,-0.5", "M0,-1L0.235,-0.324L0.951,-0.309L0.38,0.124L0.588,0.809L0,0.4L-0.588,0.809L-0.38,0.124L-0.951,-0.309L-0.235,-0.324Z", "M0,-0.75L0.9,0.75H-0.9Z M0,-1V1 M-0.78,0.25H0.78", "M0,-1L0.95,-0.31L0.59,0.81H-0.59L-0.95,-0.31Z M0,-1V0.81 M-0.82,0.1H0.82"]},
 "legend": {"orient": "none", "legendX": -12, "legendY": 490, "columns": 4, "direction": "horizontal", "title": null}}
}
},
{
"data": {"name": "bode"},
"transform": [{"filter": "datum.d != 'Day 1'"}],
"mark": {"type": "line", "strokeWidth": 1},
"encoding": {
"x": {"field": "f", "type": "quantitative", "scale": {"type": "log", "domain": [0.01, 100000], "nice": false}, "axis": null},
"y": {"field": "p", "type": "quantitative", "scale": {"domain": [0, 94.8], "nice": false, "zero": false},
 "axis": {"orient": "right", "values": [0,10,20,30,40,50,60,70,80,90], "title": "-Phase Angle (Deg)", "titleAngle": 270, "titlePadding": 36}},
"color": {"field": "d", "type": "nominal", "scale": {"domain": ["Day 1","Day 5","Day 10","Day 20","Day 45","Day 65","Day 100","Day 150"], "range": ["#ff0000","#0000ff","#ff00ff","#008a2e","#800080","#ff8000","#ff0080","#000000"]}}
}
},
{
"data": {"name": "fit1"},
"mark": {"type": "line", "strokeWidth": 1, "interpolate": "monotone"},
"encoding": {
"x": {"field": "f", "type": "quantitative", "scale": {"type": "log", "domain": [0.01, 100000], "nice": false}, "axis": null},
"y": {"field": "p", "type": "quantitative", "scale": {"domain": [0, 94.8], "nice": false, "zero": false},
 "axis": {"orient": "right", "values": [5,15,25,35,45,55,65,75,85], "labels": false, "title": null, "tickSize": 3, "domain": false}},
"color": {"field": "d", "type": "nominal", "scale": {"domain": ["Day 1","Day 5","Day 10","Day 20","Day 45","Day 65","Day 100","Day 150"], "range": ["#ff0000","#0000ff","#ff00ff","#008a2e","#800080","#ff8000","#ff0080","#000000"]}}
}
},
{
"data": {"name": "bode"},
"mark": {"type": "point", "filled": false, "size": 95, "strokeWidth": 1.1},
"encoding": {
"x": {"field": "f", "type": "quantitative", "scale": {"type": "log", "domain": [0.01, 100000], "nice": false},
 "axis": {"orient": "top", "values": [0.01, 0.1, 1, 10, 100, 1000, 10000, 100000], "labels": false, "title": null, "tickSize": -5, "domain": false}},
"y": {"field": "p", "type": "quantitative", "scale": {"domain": [0, 94.8], "nice": false, "zero": false}, "axis": null},
"color": {"field": "d", "type": "nominal", "scale": {"domain": ["Day 1","Day 5","Day 10","Day 20","Day 45","Day 65","Day 100","Day 150"], "range": ["#ff0000","#0000ff","#ff00ff","#008a2e","#800080","#ff8000","#ff0080","#000000"]}},
"shape": {"field": "d", "type": "nominal",
 "scale": {"domain": ["Day 1","Day 5","Day 10","Day 20","Day 45","Day 65","Day 100","Day 150"],
  "range": ["M-1,-1H1V1H-1Z M0,-1V1 M-1,0H1", "circle", "triangle-up", "triangle-down", "M0,-1V1 M-0.87,-0.5L0.87,0.5 M-0.87,0.5L0.87,-0.5", "M0,-1L0.235,-0.324L0.951,-0.309L0.38,0.124L0.588,0.809L0,0.4L-0.588,0.809L-0.38,0.124L-0.951,-0.309L-0.235,-0.324Z", "M0,-0.75L0.9,0.75H-0.9Z M0,-1V1 M-0.78,0.25H0.78", "M0,-1L0.95,-0.31L0.59,0.81H-0.59L-0.95,-0.31Z M0,-1V0.81 M-0.82,0.1H0.82"]}}
}
}
],
"resolve": {"scale": {"y": "independent"}, "axis": {"x": "independent"}}
}
],
"resolve": {"scale": {"color": "independent", "shape": "independent", "strokeDash": "independent"}},
"config": {
"font": "Liberation Serif",
"view": {"stroke": "black", "strokeWidth": 1.2},
"axis": {"labelFont": "Liberation Serif", "labelFontSize": 26, "labelFontWeight": "bold", "labelColor": "black", "titleFont": "Liberation Serif", "titleFontSize": 25, "titleFontWeight": "bold", "titleColor": "black", "domainColor": "black", "domainWidth": 1.2, "tickColor": "black", "tickWidth": 1.2, "tickSize": 6, "grid": false, "labelPadding": 4, "labelOverlap": false, "labelFlush": false},
"legend": {"labelFont": "Liberation Serif", "labelFontSize": 21, "labelFontWeight": "bold", "labelColor": "black", "symbolStrokeWidth": 1.5, "symbolSize": 330, "labelOffset": 20, "columnPadding": 13, "rowPadding": 2, "padding": 0},
"title": {"font": "Liberation Serif", "fontSize": 20, "fontWeight": "bold", "color": "black", "anchor": "start", "frame": "group", "offset": -8}
}
}
